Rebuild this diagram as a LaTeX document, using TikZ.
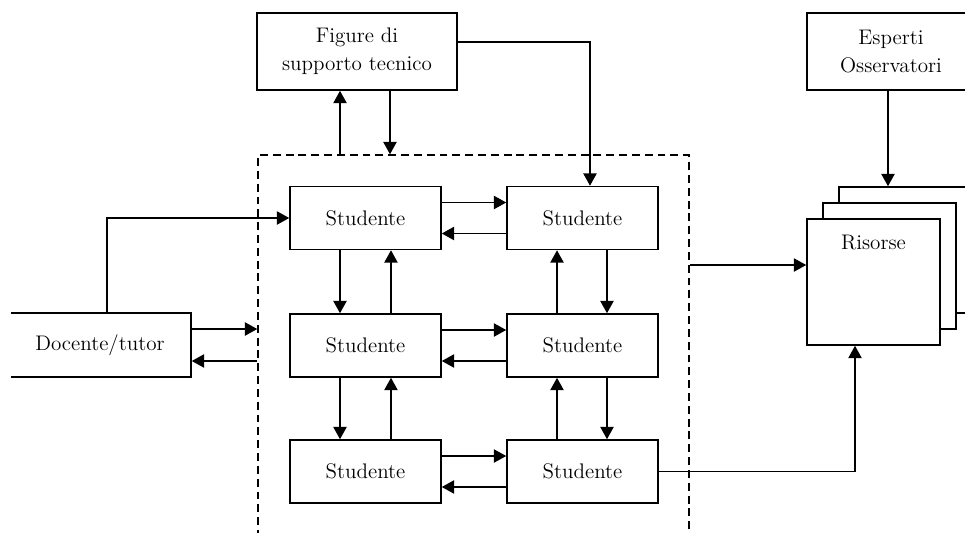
\documentclass[tikz,border=0pt]{standalone}
\usetikzlibrary{arrows.meta}

\begin{document}
\begin{tikzpicture}[->,>={Triangle[length=7pt,width=7.5pt]},x=0.02cm,y=-0.02cm,line width=0.9pt,
    box/.style={draw,fill=white,inner sep=0pt,align=center,font=\fontsize{12}{16}\selectfont},
    stud/.style={box,minimum width=3.02cm,minimum height=1.26cm},
    res/.style={box,minimum width=2.66cm,minimum height=2.52cm}]
            \useasboundingbox (0,0) rectangle (965,532);
            \clip (11,0) rectangle (965,532);

            % group of students
            \node (grp) [draw,dashed,dash pattern=on 4.5pt off 2.8pt,minimum width=8.62cm,minimum height=8.1cm] at (473.5,357.5) {};
            \foreach \r/\y in {1/218,2/345.5,3/471.5} {
                \node (s\r1) [stud] at (365.5,\y) {Studente};
                \node (s\r2) [stud] at (582.5,\y) {Studente};
            }

            \node (fig) [box,minimum width=4cm,minimum height=1.54cm] at (357,51.5) {Figure di\\supporto tecnico};
            \node (esp) [box,minimum width=3.36cm,minimum height=1.54cm] at (891,51.5) {Esperti\\Osservatori};
            \node (doc) [box,minimum width=3.64cm,minimum height=1.28cm] at (100,345) {Docente/tutor};

            % stack of resources
            \node (res3) [res] at (905.5,250) {};
            \node (res2) [res] at (889.5,266) {};
            \node (res) [res,label={[anchor=north,inner sep=0pt,yshift=-0.32cm,font=\fontsize{12}{16}\selectfont]north:Risorse}] at (873.5,282) {};

            % students among themselves
            \foreach \r in {1,2,3} {
                \draw ([yshift=0.31cm]s\r1.east) -- ([yshift=0.31cm]s\r1.east -| s\r2.west);
                \draw ([yshift=-0.31cm]s\r2.west) -- ([yshift=-0.31cm]s\r2.west -| s\r1.east);
            }
            \foreach \a/\b in {1/2,2/3} {
                \draw ([xshift=-0.51cm]s\a1.south) -- ([xshift=-0.51cm]s\b1.north);
                \draw ([xshift=0.51cm]s\b1.north) -- ([xshift=0.51cm]s\a1.south);
                \draw ([xshift=-0.51cm]s\b2.north) -- ([xshift=-0.51cm]s\a2.south);
                \draw ([xshift=0.49cm]s\a2.south) -- ([xshift=0.49cm]s\b2.north);
            }

            % tutor and technical staff
            \draw ([xshift=0.14cm]doc.north) |- (s11.west);
            \draw ([yshift=0.32cm]doc.east) -- ([yshift=0.32cm]doc.east -| grp.west);
            \draw ([yshift=-0.32cm]doc.east -| grp.west) -- ([yshift=-0.32cm]doc.east);
            \draw ([xshift=-0.34cm]fig.south |- grp.north) -- ([xshift=-0.34cm]fig.south);
            \draw ([xshift=0.66cm]fig.south) -- ([xshift=0.66cm]fig.south |- grp.north);
            \draw ([yshift=0.19cm]fig.east) -| ([xshift=0.15cm]s12.north);

            % resources
            \draw ([yshift=0.34cm]res.west -| grp.east) -- ([yshift=0.34cm]res.west);
            \draw (s32.east) -| ([xshift=-0.37cm]res.south);
            \draw ([xshift=-0.06cm]esp.south) -- ([xshift=-0.06cm]esp.south |- res3.north);
        \end{tikzpicture}
\end{document}
